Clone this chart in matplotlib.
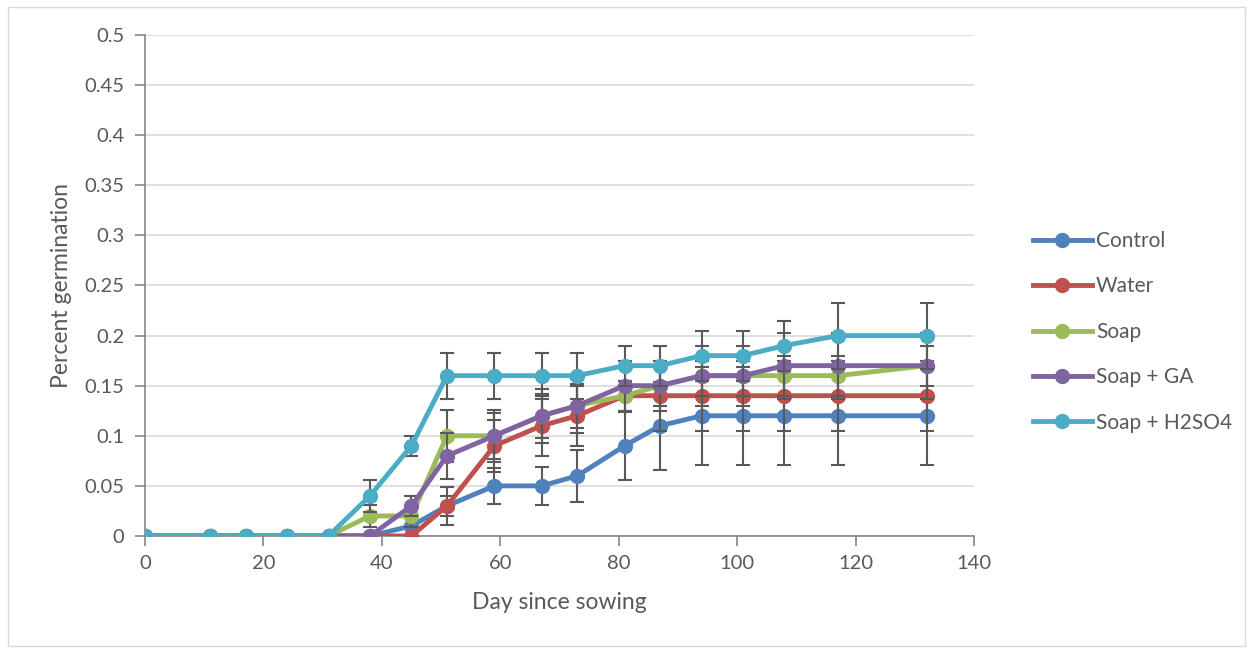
import matplotlib.pyplot as plt
from matplotlib.patches import Rectangle

plt.rcParams['font.family'] = ['Lato', 'DejaVu Sans']

days = [0, 11, 17, 24, 31, 38, 45, 51, 59, 67, 73, 81, 87, 94, 101, 108, 117, 132]

control = [0, 0, 0, 0, 0, 0, 0.01, 0.03, 0.05, 0.05, 0.06, 0.09, 0.11, 0.12, 0.12, 0.12, 0.12, 0.12]
water = [0, 0, 0, 0, 0, 0, 0, 0.03, 0.09, 0.11, 0.12, 0.14, 0.14, 0.14, 0.14, 0.14, 0.14, 0.14]
soap = [0, 0, 0, 0, 0, 0.02, 0.02, 0.10, 0.10, 0.12, 0.13, 0.14, 0.15, 0.16, 0.16, 0.16, 0.16, 0.17]
soap_ga = [0, 0, 0, 0, 0, 0, 0.03, 0.08, 0.10, 0.12, 0.13, 0.15, 0.15, 0.16, 0.16, 0.17, 0.17, 0.17]
soap_h2so4 = [0, 0, 0, 0, 0, 0.04, 0.09, 0.16, 0.16, 0.16, 0.16, 0.17, 0.17, 0.18, 0.18, 0.19, 0.20, 0.20]

# standard errors
control_err = [0, 0, 0, 0, 0, 0, 0.01, 0.019, 0.018, 0.019, 0.026, 0.034, 0.044, 0.049, 0.049, 0.049, 0.049, 0.049]
water_err = [0, 0, 0, 0, 0, 0, 0, 0.01, 0.026, 0.03, 0.03, 0.015, 0.035, 0.035, 0.035, 0.035, 0.035, 0.035]
soap_err = [0, 0, 0, 0, 0, 0.011, 0.011, 0.026, 0.023, 0.022, 0.022, 0.015, 0.02, 0.02, 0.02, 0.02, 0.02, 0.02]
soap_ga_err = [0, 0, 0, 0, 0, 0, 0.01, 0.023, 0.026, 0.027, 0.027, 0.025, 0.025, 0.03, 0.03, 0.033, 0.033, 0.033]
soap_h2so4_err = [0, 0, 0, 0, 0, 0.016, 0.01, 0.023, 0.023, 0.023, 0.023, 0.02, 0.02, 0.025, 0.025, 0.025, 0.033, 0.033]

labels = ['Control', 'Water', 'Soap', 'Soap + GA', 'Soap + H2SO4']
series = [control, water, soap, soap_ga, soap_h2so4]
errors = [control_err, water_err, soap_err, soap_ga_err, soap_h2so4_err]
colors = ['#4F81BD', '#C0504D', '#9BBB59', '#8064A2', '#4BACC6']

text_color = '#595959'

fig = plt.figure(figsize=(12.53, 6.51), dpi=100)
ax = fig.add_axes([0.1157, 0.1767, 0.7773 - 0.1157, 0.9462 - 0.1767])

# light frame round the whole chart area
fig.patches.append(Rectangle((0.006, 0.008), 0.988, 0.982, transform=fig.transFigure,
                             fill=False, edgecolor='#d9d9d9', linewidth=1))

handles = []
for i, (vals, err, col, lab) in enumerate(zip(series, errors, colors, labels)):
    ax.errorbar(days, vals, yerr=err, fmt='none', ecolor='#595959', elinewidth=1.5,
                capsize=5, capthick=1.5, zorder=2 + i * 2)
    h, = ax.plot(days, vals, color=col, linewidth=3.5, marker='o', markersize=10,
                 label=lab, zorder=3 + i * 2)
    handles.append(h)

ax.set_xlim(0, 140)
ax.set_ylim(0, 0.5)
ax.set_xticks(range(0, 141, 20))
ax.set_yticks([0, 0.05, 0.1, 0.15, 0.2, 0.25, 0.3, 0.35, 0.4, 0.45, 0.5])
ax.set_yticklabels(['0', '0.05', '0.1', '0.15', '0.2', '0.25', '0.3', '0.35', '0.4', '0.45', '0.5'])

ax.grid(axis='y', color='#d9d9d9', linewidth=1.2, zorder=0)
ax.set_axisbelow(True)
for side in ['top', 'right']:
    ax.spines[side].set_visible(False)
for side in ['left', 'bottom']:
    ax.spines[side].set_color('#868686')
    ax.spines[side].set_linewidth(1.2)
    ax.spines[side].set_zorder(1)
ax.tick_params(axis='both', colors='#868686', labelcolor=text_color, labelsize=14.5,
               length=7, width=1.2, direction='out')
ax.tick_params(axis='y', pad=8)
ax.tick_params(axis='x', pad=7)

ax.set_xlabel('Day since sowing', fontsize=16.5, color=text_color, labelpad=14)
ax.set_ylabel('Percent germination', fontsize=16.5, color=text_color, labelpad=9)

leg = fig.legend(handles=handles, loc='upper left', bbox_to_anchor=(0.818, 0.658),
                 frameon=False, fontsize=15, handlelength=2.8, handletextpad=0.2,
                 labelspacing=1.22, borderaxespad=0)
for t in leg.get_texts():
    t.set_color(text_color)

fig.savefig('out.png', dpi=100)
